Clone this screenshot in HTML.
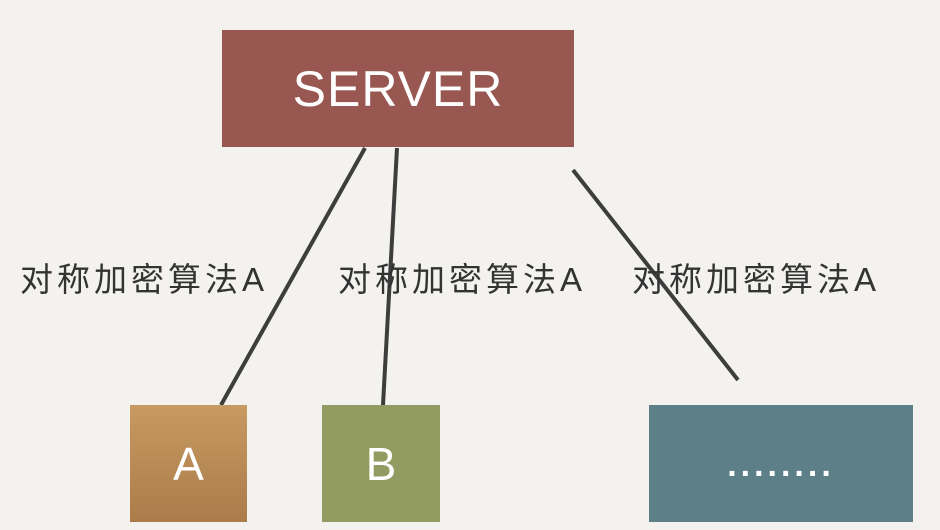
<!DOCTYPE html>
<html><head><meta charset="utf-8"><style>
html,body{margin:0;padding:0;}
body{width:940px;height:530px;background:#f3f2ef;position:relative;overflow:hidden;font-family:"Liberation Sans","Noto Sans CJK SC",sans-serif;}
.box{position:absolute;color:#fff;display:flex;align-items:center;justify-content:center;}
.lbl{position:absolute;font-size:33px;letter-spacing:4px;color:#333;top:253px;white-space:nowrap;}
</style></head><body>
<svg width="940" height="530" style="position:absolute;left:0;top:0">
<line x1="365" y1="148" x2="221" y2="405" stroke="#3d3d3d" stroke-width="4"/>
<line x1="397" y1="148" x2="383" y2="405" stroke="#3d3d3d" stroke-width="4"/>
<line x1="573" y1="170" x2="738" y2="380" stroke="#3d3d3d" stroke-width="4"/>
</svg>
<div class="box" style="left:222px;top:30px;width:352px;height:117px;background:#985751;font-size:50px;letter-spacing:1px;">SERVER</div>
<div class="lbl" style="left:20px">对称加密算法A</div>
<div class="lbl" style="left:338px">对称加密算法A</div>
<div class="lbl" style="left:632px">对称加密算法A</div>
<div class="box" style="left:130px;top:405px;width:117px;height:117px;background:linear-gradient(#c79a61,#aa7c4a);font-size:46px;">A</div>
<div class="box" style="left:322px;top:405px;width:118px;height:117px;background:#919b62;font-size:46px;">B</div>
<div class="box" style="left:649px;top:405px;width:264px;height:117px;background:#5d8088;font-size:34px;letter-spacing:4px;padding-top:4px;box-sizing:border-box;font-weight:bold;">........</div>
</body></html>
